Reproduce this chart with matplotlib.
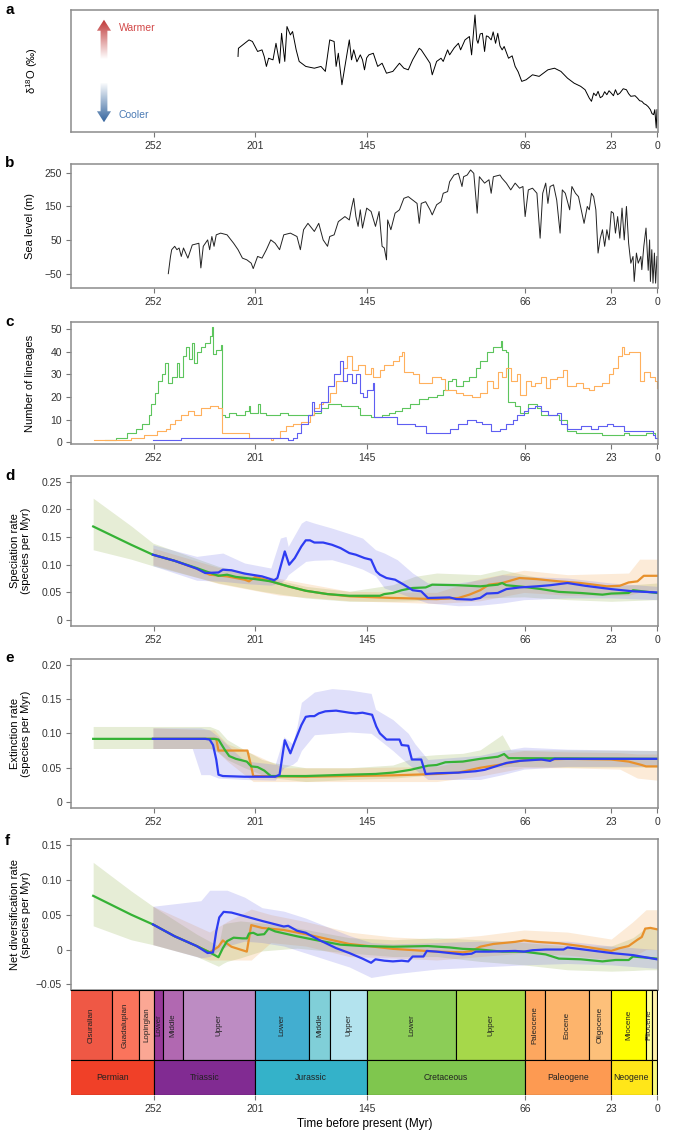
import numpy as np
import matplotlib
matplotlib.use("Agg")
import matplotlib.pyplot as plt
from matplotlib.patches import Polygon
from matplotlib.colors import LinearSegmentedColormap

plt.rcParams['font.family'] = ['Liberation Sans', 'DejaVu Sans']
plt.rcParams['mathtext.fontset'] = 'custom'
plt.rcParams['mathtext.rm'] = 'Liberation Sans'

# ---------------- data (age in Myr, value) ----------------
# a: oxygen isotope curve (per mil, axis inverted so warmer is up)
d18o = np.array([
    [209.7, 1.33], [209.5, 0.92], [204.2, 0.50], [202.5, 0.58], [199.9, 1.08], [197.7, 1.00],
    [196.6, 1.33], [195.5, 1.83], [194.4, 1.42], [192.2, 1.50], [190.7, 0.67], [188.9, 1.67],
    [187.9, 0.17], [186.3, 1.58], [185.2, -0.17], [183.5, 0.25], [182.4, 0.08], [180.6, 1.00],
    [179.1, 1.58], [175.8, 1.83], [171.5, 1.92], [168.2, 1.83], [166.0, 2.08], [163.8, 0.50],
    [161.6, 0.58], [160.6, 1.83], [159.5, 1.17], [157.7, 2.75], [156.2, 1.83], [154.0, 0.50],
    [152.9, 1.50], [151.8, 1.00], [150.2, 1.60], [148.5, 1.25], [147.4, 1.50], [146.4, 2.00],
    [145.3, 1.40], [144.2, 1.25], [142.0, 1.17], [139.8, 1.83], [137.6, 1.67], [135.4, 2.17],
    [132.2, 2.08], [128.9, 1.67], [126.7, 1.92], [124.5, 2.00], [122.3, 1.50], [119.0, 0.92],
    [118.0, 1.00], [114.7, 1.50], [113.6, 1.67], [112.5, 2.25], [110.3, 1.58], [108.1, 1.42],
    [107.0, 1.58], [104.8, 1.00], [103.8, 1.25], [101.5, 0.90], [99.4, 0.67], [98.3, 1.00],
    [96.1, 0.50], [93.9, 0.33], [92.8, 1.25], [91.1, -0.75], [90.2, 0.50], [89.6, 0.67],
    [88.5, 0.20], [87.4, 0.17], [86.3, 1.08], [85.4, 0.30], [84.5, 0.33], [83.0, 0.50],
    [82.0, 0.10], [80.8, 0.67], [79.7, 0.17], [78.6, 0.80], [77.5, 1.00], [76.5, 0.83],
    [74.3, 1.42], [72.5, 1.30], [71.0, 1.83], [69.5, 2.10], [67.7, 2.58], [65.5, 2.50],
    [62.3, 2.25], [59.0, 2.33], [54.6, 2.00], [51.3, 1.92], [48.1, 2.08], [44.8, 2.42],
    [41.5, 2.67], [38.2, 2.83], [36.0, 3.00], [33.9, 3.42], [32.8, 3.58], [31.7, 3.17],
    [30.5, 3.30], [29.5, 3.08], [28.4, 3.40], [27.3, 3.33], [26.2, 3.10], [25.1, 3.25],
    [24.0, 3.05], [22.9, 3.17], [21.8, 3.30], [20.8, 3.00], [19.7, 3.25], [18.6, 3.17],
    [16.9, 2.95], [15.3, 3.00], [14.2, 3.20], [13.1, 3.33], [11.0, 3.30], [9.8, 3.42],
    [8.7, 3.55], [7.6, 3.58], [6.5, 3.70], [5.5, 3.75], [4.4, 3.85], [3.3, 4.00], [2.5, 4.20],
    [1.7, 4.25], [1.1, 4.00], [0.4, 4.92], [0.0, 4.00]])

# b: sea level (m)
sea_level = np.array([
    [244.6, -49], [243.5, 2], [242.9, 22], [241.4, 32], [240.3, 22], [239.2, 27], [238.1, 2],
    [237.0, 27], [234.8, -3], [232.6, 36], [229.3, 41], [228.3, -32], [227.1, 32], [224.9, 51],
    [223.9, 22], [222.8, 61], [221.7, 32], [220.6, 66], [218.4, 71], [215.2, 66], [211.9, 41],
    [209.7, 22], [207.5, -3], [205.3, -8], [203.1, -18], [202.1, -34], [199.9, 2], [197.7, -3],
    [195.5, 22], [193.3, 51], [191.1, 41], [188.9, 22], [186.8, 66], [183.5, 71], [180.2, 61],
    [178.5, 22], [176.9, 81], [174.7, 100], [171.5, 76], [169.3, 100], [167.1, 51], [164.9, 32],
    [163.8, 61], [161.6, 66], [159.5, 105], [156.2, 120], [154.0, 110], [152.9, 145], [151.8, 174],
    [150.7, 120], [149.6, 91], [148.5, 140], [147.4, 86], [145.3, 145], [143.1, 135], [140.9, 91],
    [139.1, 135], [137.6, 32], [136.5, 27], [135.4, -8], [134.8, 110], [133.2, 81], [131.1, 130],
    [128.9, 140], [126.7, 174], [124.5, 179], [122.3, 169], [120.1, 159], [119.0, 100],
    [118.0, 159], [115.8, 164], [113.6, 140], [112.5, 125], [110.3, 155], [108.1, 164],
    [107.0, 189], [104.8, 194], [103.8, 223], [101.6, 243], [99.4, 248], [97.6, 209], [96.8, 238],
    [95.0, 243], [93.3, 258], [91.7, 248], [90.0, 130], [88.9, 238], [86.3, 219], [84.1, 229],
    [83.0, 189], [81.9, 238], [78.6, 243], [77.5, 233], [75.4, 219], [73.2, 199], [71.0, 219],
    [68.8, 204], [67.1, 209], [66.0, 120], [64.4, 199], [62.3, 204], [60.1, 189], [58.5, 56],
    [57.2, 189], [55.7, 219], [54.6, 159], [53.5, 209], [51.8, 214], [50.2, 169], [48.5, 71],
    [47.4, 199], [45.9, 189], [43.7, 140], [42.6, 209], [40.8, 189], [39.3, 179], [36.5, 100],
    [34.9, 150], [33.9, 140], [32.8, 189], [31.7, 179], [30.6, 140], [29.5, 12], [28.4, 56],
    [27.3, 81], [26.2, 32], [25.1, 81], [24.0, 51], [22.9, 135], [21.8, 130], [20.8, 71],
    [19.7, 120], [18.6, 56], [17.5, 145], [16.4, 51], [15.3, 150], [14.2, 41], [13.1, -18],
    [12.0, 2], [11.4, -72], [10.3, 12], [9.4, -18], [8.1, 2], [7.6, -37], [6.6, 32], [5.5, 86],
    [4.4, -39], [3.7, 51], [3.3, -72], [2.6, 22], [2.0, -77], [1.3, 12], [0.7, -77], [0.0, 2]])

# c: lineages through time (value holds until next age)
ltt_green = np.array([
    [276.3, 1], [270.9, 2], [265.4, 4], [261.0, 6], [257.8, 8], [254.5, 12], [253.4, 17],
    [251.2, 22], [249.7, 27], [247.9, 30], [246.2, 35], [244.6, 26], [242.5, 29], [240.3, 35],
    [239.2, 29], [237.4, 38], [235.9, 42], [234.2, 37], [232.6, 44], [231.5, 35], [230.0, 40],
    [228.3, 42], [226.1, 44], [223.9, 47], [222.6, 51], [222.2, 39], [220.6, 41], [218.4, 43],
    [217.5, 12], [216.3, 11], [214.1, 13], [210.8, 12], [206.4, 14], [204.2, 16], [203.5, 13],
    [199.9, 17], [198.8, 13], [195.5, 12], [188.9, 13], [184.6, 12], [175.8, 12], [171.5, 13],
    [168.2, 15], [164.9, 17], [158.4, 16], [149.6, 15], [148.5, 12], [143.1, 11], [137.6, 12],
    [134.3, 13], [131.1, 14], [127.8, 15], [123.4, 17], [119.0, 19], [114.7, 20], [110.3, 21],
    [107.0, 23], [104.8, 27], [102.7, 28], [100.5, 25], [97.2, 27], [93.9, 29], [90.7, 33],
    [88.5, 36], [85.2, 40], [81.9, 42], [78.0, 45], [77.5, 41], [75.4, 40], [74.7, 18],
    [71.0, 16], [68.8, 13], [64.4, 17], [60.1, 15], [57.9, 12], [49.1, 10], [44.8, 5],
    [40.4, 4], [27.3, 3], [16.4, 4], [14.2, 3], [5.5, 4], [1.1, 2], [0.0, 2]])
ltt_orange = np.array([
    [281.8, 1], [263.2, 2], [256.7, 3], [250.1, 5], [245.7, 6], [243.6, 8], [241.4, 10],
    [238.1, 12], [234.8, 14], [231.5, 12], [228.3, 15], [223.9, 16], [219.5, 15], [217.7, 4],
    [204.2, 2], [193.3, 1], [192.2, 2], [188.9, 5], [185.7, 7], [182.4, 8], [178.0, 9],
    [173.7, 12], [171.5, 15], [169.3, 17], [167.1, 18], [163.8, 22], [160.6, 27], [157.3, 33],
    [155.1, 38], [152.9, 32], [149.6, 34], [146.4, 30], [143.1, 33], [142.0, 29], [138.7, 32],
    [136.5, 34], [132.2, 36], [128.9, 38], [127.8, 40], [126.7, 31], [122.3, 30], [119.0, 26],
    [112.5, 29], [108.1, 28], [105.9, 23], [100.5, 22], [97.2, 21], [92.8, 20], [88.5, 22],
    [85.2, 27], [81.9, 24], [79.7, 31], [77.5, 29], [75.4, 33], [73.2, 27], [69.9, 30],
    [68.8, 21], [65.5, 27], [63.3, 25], [61.2, 26], [57.9, 29], [55.7, 24], [53.5, 28],
    [50.2, 29], [47.0, 32], [44.8, 25], [40.4, 26], [37.1, 24], [33.9, 23], [31.7, 25],
    [27.3, 26], [24.0, 30], [21.8, 33], [19.7, 38], [17.5, 42], [16.4, 39], [14.2, 40],
    [8.7, 27], [6.6, 31], [3.3, 29], [1.1, 27], [0.0, 24]])
ltt_blue = np.array([
    [252.3, 1], [238.1, 2], [193.3, 2], [184.6, 1], [182.4, 2], [180.2, 4], [178.0, 8],
    [174.7, 12], [172.6, 18], [171.5, 14], [168.2, 18], [164.9, 25], [161.6, 30], [158.8, 36],
    [157.3, 27], [155.1, 30], [152.9, 26], [150.7, 30], [148.5, 22], [147.4, 20], [145.3, 23],
    [142.0, 26], [141.8, 11], [136.5, 11], [129.9, 8], [121.2, 7], [115.8, 4], [108.1, 4],
    [103.8, 6], [99.4, 8], [95.0, 10], [90.7, 9], [87.4, 8], [83.0, 5], [78.6, 6], [75.4, 8],
    [72.1, 10], [69.9, 12], [66.6, 14], [64.4, 15], [61.2, 16], [57.9, 14], [54.6, 12],
    [50.2, 13], [48.1, 8], [44.8, 6], [38.2, 7], [32.8, 6], [29.5, 7], [25.1, 8], [21.8, 7],
    [16.4, 5], [3.3, 5], [2.2, 3], [1.1, 2], [0.0, 2]])

# d: speciation rate, lines [age, rate] and bands [age, lower, upper]
spec_green = np.array([
    [282.2, 0.169], [263.2, 0.136], [252.3, 0.118], [241.4, 0.107], [230.4, 0.094],
    [219.5, 0.080], [215.2, 0.082], [210.8, 0.078], [201.0, 0.074], [193.3, 0.070],
    [184.6, 0.061], [175.8, 0.053], [164.9, 0.047], [154.0, 0.044], [145.3, 0.044],
    [138.7, 0.044], [136.5, 0.047], [132.2, 0.049], [127.8, 0.054], [122.3, 0.058],
    [115.8, 0.059], [112.5, 0.064], [99.4, 0.063], [88.5, 0.061], [79.7, 0.064], [77.5, 0.067],
    [75.4, 0.063], [66.6, 0.060], [57.9, 0.056], [49.1, 0.051], [38.2, 0.049], [27.3, 0.046],
    [22.9, 0.048], [14.2, 0.049], [12.0, 0.054], [0.0, 0.049]])
spec_orange = np.array([
    [252.3, 0.118], [241.4, 0.107], [230.4, 0.093], [223.9, 0.082], [215.2, 0.079],
    [206.4, 0.073], [204.2, 0.070], [201.0, 0.078], [193.3, 0.070], [184.6, 0.061],
    [175.8, 0.053], [164.9, 0.047], [154.0, 0.043], [132.2, 0.040], [110.3, 0.038],
    [99.4, 0.040], [93.9, 0.046], [88.5, 0.054], [84.1, 0.064], [77.5, 0.067], [68.8, 0.076],
    [60.1, 0.074], [49.1, 0.070], [38.2, 0.067], [25.1, 0.061], [18.6, 0.062], [14.2, 0.068],
    [9.8, 0.070], [6.6, 0.080], [0.0, 0.080]])
spec_blue = np.array([
    [252.3, 0.118], [241.4, 0.107], [230.4, 0.093], [226.1, 0.085], [219.5, 0.086],
    [217.3, 0.091], [213.0, 0.090], [206.4, 0.084], [197.7, 0.079], [191.6, 0.072],
    [190.0, 0.076], [186.3, 0.124], [184.1, 0.100], [181.3, 0.112], [178.0, 0.133],
    [175.8, 0.144], [173.7, 0.144], [171.5, 0.140], [167.1, 0.140], [162.7, 0.136],
    [158.4, 0.130], [154.0, 0.121], [150.7, 0.118], [146.4, 0.112], [143.1, 0.109],
    [140.5, 0.088], [138.7, 0.082], [135.4, 0.076], [131.1, 0.073], [126.7, 0.064],
    [122.3, 0.054], [118.0, 0.052], [114.7, 0.040], [103.8, 0.041], [100.5, 0.038],
    [92.8, 0.037], [88.5, 0.040], [85.2, 0.048], [79.7, 0.049], [75.4, 0.056], [68.8, 0.059],
    [60.1, 0.061], [53.5, 0.063], [44.8, 0.067], [36.0, 0.062], [22.9, 0.056], [12.0, 0.052],
    [0.0, 0.050]])
spec_green_ci = np.array([
    [282.2, 0.127, 0.220], [263.2, 0.110, 0.170], [252.3, 0.098, 0.139], [219.5, 0.067, 0.097],
    [197.7, 0.052, 0.079], [175.8, 0.040, 0.061], [154.0, 0.034, 0.052], [132.2, 0.034, 0.064],
    [121.2, 0.035, 0.079], [110.3, 0.037, 0.085], [88.5, 0.040, 0.082], [77.5, 0.041, 0.091],
    [66.6, 0.042, 0.082], [44.8, 0.037, 0.067], [22.9, 0.034, 0.061], [0.0, 0.037, 0.067]])
spec_orange_ci = np.array([
    [252.3, 0.100, 0.130], [219.5, 0.066, 0.095], [188.9, 0.045, 0.075], [154.0, 0.035, 0.052],
    [110.3, 0.030, 0.050], [88.5, 0.035, 0.075], [66.6, 0.050, 0.090], [44.8, 0.045, 0.082],
    [14.2, 0.045, 0.085], [8.7, 0.050, 0.110], [0.0, 0.055, 0.110]])
spec_blue_ci = np.array([
    [252.3, 0.098, 0.136], [230.4, 0.072, 0.115], [217.3, 0.070, 0.121], [206.4, 0.066, 0.103],
    [193.3, 0.063, 0.094], [188.5, 0.067, 0.148], [185.7, 0.075, 0.151], [184.6, 0.082, 0.133],
    [178.0, 0.100, 0.175], [175.8, 0.106, 0.180], [171.5, 0.108, 0.175], [162.7, 0.109, 0.166],
    [154.0, 0.100, 0.156], [147.4, 0.092, 0.148], [140.9, 0.080, 0.127], [136.5, 0.058, 0.121],
    [130.0, 0.050, 0.109], [122.3, 0.040, 0.085], [114.7, 0.031, 0.067], [99.4, 0.026, 0.067],
    [88.5, 0.027, 0.073], [77.5, 0.031, 0.082], [66.6, 0.037, 0.079], [44.8, 0.040, 0.076],
    [22.9, 0.040, 0.067], [0.0, 0.037, 0.061]])

# e: extinction rate
ext_green = np.array([
    [282.2, 0.092], [221.7, 0.092], [219.5, 0.091], [216.3, 0.076], [214.1, 0.067],
    [210.8, 0.063], [205.3, 0.059], [203.1, 0.052], [199.9, 0.051], [196.6, 0.046],
    [193.3, 0.038], [175.8, 0.038], [154.0, 0.040], [140.9, 0.041], [132.2, 0.043],
    [123.4, 0.047], [114.7, 0.053], [110.3, 0.054], [105.9, 0.058], [97.2, 0.059],
    [88.5, 0.063], [79.7, 0.066], [76.5, 0.070], [74.3, 0.064], [0.0, 0.063]])
ext_orange = np.array([
    [252.3, 0.092], [220.6, 0.092], [219.5, 0.075], [205.0, 0.075], [203.1, 0.052],
    [202.1, 0.038], [175.8, 0.037], [154.0, 0.038], [132.2, 0.039], [110.3, 0.041],
    [99.4, 0.043], [88.5, 0.050], [79.7, 0.054], [66.6, 0.061], [55.7, 0.062], [44.8, 0.063],
    [22.9, 0.062], [14.2, 0.059], [7.6, 0.054], [5.5, 0.052], [0.0, 0.052]])
ext_blue = np.array([
    [252.3, 0.092], [226.1, 0.092], [223.9, 0.091], [222.2, 0.083], [220.6, 0.062],
    [219.5, 0.040], [217.3, 0.038], [206.4, 0.037], [191.1, 0.037], [188.9, 0.040],
    [186.3, 0.090], [183.5, 0.071], [181.3, 0.088], [178.0, 0.112], [175.8, 0.124],
    [173.7, 0.125], [171.5, 0.125], [169.3, 0.129], [166.0, 0.132], [160.6, 0.133],
    [154.0, 0.130], [150.7, 0.129], [147.4, 0.130], [144.2, 0.128], [142.6, 0.127],
    [140.5, 0.110], [138.7, 0.100], [135.4, 0.091], [128.9, 0.091], [127.8, 0.083],
    [124.5, 0.082], [122.7, 0.062], [118.0, 0.062], [115.8, 0.041], [110.3, 0.042],
    [99.4, 0.043], [90.7, 0.045], [86.3, 0.047], [79.7, 0.053], [75.4, 0.057], [68.8, 0.060],
    [57.9, 0.062], [53.5, 0.060], [51.3, 0.063], [0.0, 0.063]])
ext_green_ci = np.array([
    [282.2, 0.078, 0.110], [223.9, 0.078, 0.110], [219.5, 0.072, 0.105], [215.2, 0.062, 0.091],
    [206.4, 0.050, 0.076], [197.7, 0.040, 0.062], [191.1, 0.035, 0.057], [175.8, 0.030, 0.050],
    [154.0, 0.033, 0.050], [132.2, 0.035, 0.054], [119.0, 0.038, 0.067], [110.3, 0.042, 0.069],
    [97.2, 0.046, 0.071], [88.5, 0.050, 0.076], [77.5, 0.051, 0.098], [73.2, 0.052, 0.076],
    [44.8, 0.051, 0.076], [0.0, 0.051, 0.075]])
ext_orange_ci = np.array([
    [252.3, 0.078, 0.108], [221.7, 0.078, 0.105], [215.2, 0.060, 0.085], [202.1, 0.030, 0.070],
    [186.8, 0.030, 0.050], [154.0, 0.030, 0.050], [110.3, 0.030, 0.052], [88.5, 0.038, 0.065],
    [66.6, 0.050, 0.075], [44.8, 0.050, 0.073], [18.6, 0.048, 0.072], [9.8, 0.035, 0.070],
    [0.0, 0.032, 0.070]])
ext_blue_ci = np.array([
    [252.3, 0.078, 0.108], [232.6, 0.078, 0.108], [228.3, 0.040, 0.108], [223.9, 0.040, 0.105],
    [219.5, 0.035, 0.095], [206.4, 0.033, 0.060], [191.1, 0.032, 0.055], [186.8, 0.050, 0.095],
    [182.4, 0.055, 0.085], [180.2, 0.060, 0.110], [178.0, 0.075, 0.145], [171.5, 0.098, 0.160],
    [162.7, 0.100, 0.165], [154.0, 0.102, 0.163], [143.1, 0.100, 0.158], [140.9, 0.095, 0.135],
    [132.2, 0.075, 0.120], [124.5, 0.055, 0.100], [121.2, 0.048, 0.085], [114.7, 0.033, 0.062],
    [88.5, 0.033, 0.068], [77.5, 0.040, 0.075], [66.6, 0.048, 0.080], [44.8, 0.052, 0.077],
    [0.0, 0.052, 0.075]])

# f: net diversification rate
div_green = np.array([
    [282.2, 0.077], [263.2, 0.050], [252.3, 0.036], [241.4, 0.019], [230.4, 0.005],
    [223.9, -0.004], [219.5, -0.011], [217.3, 0.002], [215.2, 0.012], [211.9, 0.017],
    [207.5, 0.016], [205.3, 0.016], [204.2, 0.023], [202.1, 0.024], [199.9, 0.021],
    [196.6, 0.022], [194.4, 0.030], [191.1, 0.026], [180.2, 0.019], [171.5, 0.014],
    [158.4, 0.007], [147.4, 0.005], [132.2, 0.004], [114.7, 0.005], [103.8, 0.003],
    [97.2, 0.001], [88.5, 0.000], [77.5, -0.003], [66.6, -0.003], [55.7, -0.007],
    [49.1, -0.013], [38.2, -0.014], [27.3, -0.017], [20.8, -0.015], [14.2, -0.015],
    [12.0, -0.010], [0.0, -0.013]])
div_orange = np.array([
    [252.3, 0.036], [241.4, 0.019], [230.4, 0.005], [223.9, -0.004], [219.5, 0.004],
    [217.3, 0.013], [213.0, 0.004], [205.3, -0.003], [203.1, 0.035], [197.7, 0.031],
    [186.8, 0.028], [175.8, 0.022], [154.0, 0.008], [132.2, 0.001], [110.3, -0.003],
    [97.2, -0.004], [92.8, -0.002], [88.5, 0.004], [81.9, 0.008], [71.0, 0.011], [66.6, 0.013],
    [60.1, 0.011], [49.1, 0.009], [38.2, 0.005], [27.3, 0.000], [22.9, -0.002], [18.6, 0.002],
    [14.2, 0.005], [9.8, 0.014], [7.6, 0.018], [5.9, 0.030], [3.3, 0.031], [0.0, 0.029]])
div_blue = np.array([
    [252.3, 0.036], [241.4, 0.019], [230.4, 0.005], [224.9, -0.005], [222.2, -0.004],
    [220.6, 0.026], [219.1, 0.046], [216.9, 0.054], [213.0, 0.053], [197.7, 0.041],
    [186.8, 0.033], [184.6, 0.034], [180.2, 0.027], [175.8, 0.024], [169.3, 0.014],
    [160.6, 0.002], [154.0, -0.005], [147.4, -0.013], [143.1, -0.019], [140.9, -0.014],
    [136.5, -0.016], [132.2, -0.017], [127.8, -0.016], [124.5, -0.017], [122.3, -0.010],
    [116.9, -0.010], [115.2, -0.002], [110.3, -0.003], [103.8, -0.005], [97.2, -0.007],
    [92.8, -0.006], [90.7, -0.003], [84.1, -0.003], [71.0, -0.002], [66.6, -0.003],
    [62.3, -0.001], [55.7, 0.000], [46.8, 0.000], [44.8, 0.003], [33.9, -0.001],
    [22.9, -0.005], [12.0, -0.008], [0.0, -0.014]])
div_green_ci = np.array([
    [282.2, 0.034, 0.125], [263.2, 0.014, 0.084], [252.3, 0.007, 0.062], [230.4, -0.010, 0.022],
    [219.5, -0.024, 0.005], [217.3, -0.020, 0.036], [215.2, -0.017, 0.038], [208.6, -0.012, 0.041],
    [197.7, -0.002, 0.038], [180.2, 0.002, 0.031], [154.0, -0.005, 0.017], [132.2, -0.010, 0.014],
    [110.3, -0.010, 0.017], [88.5, -0.017, 0.014], [66.6, -0.022, 0.010], [44.8, -0.029, 0.005],
    [22.9, -0.031, 0.005], [12.0, -0.030, 0.017], [5.5, -0.029, 0.031], [0.0, -0.029, 0.031]])
div_orange_ci = np.array([
    [252.3, 0.007, 0.062], [223.9, -0.015, 0.025], [215.2, -0.015, 0.040], [203.1, -0.015, 0.058],
    [193.3, 0.010, 0.050], [175.8, 0.005, 0.040], [154.0, -0.010, 0.025], [132.2, -0.012, 0.018],
    [110.3, -0.015, 0.015], [88.5, -0.010, 0.020], [66.6, -0.005, 0.028], [44.8, -0.008, 0.025],
    [22.9, -0.015, 0.015], [12.0, -0.010, 0.040], [5.5, 0.000, 0.057], [0.0, 0.000, 0.057]])
div_blue_ci = np.array([
    [252.3, 0.007, 0.062], [228.3, -0.012, 0.070], [223.9, -0.010, 0.085], [215.2, 0.005, 0.085],
    [206.4, 0.012, 0.075], [197.7, 0.010, 0.060], [186.8, 0.005, 0.055], [175.8, -0.005, 0.045],
    [154.0, -0.025, 0.020], [143.1, -0.040, 0.010], [132.2, -0.035, 0.008], [110.3, -0.028, 0.010],
    [88.5, -0.025, 0.012], [66.6, -0.022, 0.012], [44.8, -0.020, 0.012], [22.9, -0.022, 0.005],
    [0.0, -0.027, 0.000]])

# geological time scale
epoch_names = ["Cisuralian", "Guadalupian", "Lopingian", "Lower", "Middle", "Upper", "Lower",
               "Middle", "Upper", "Lower", "Upper", "Paleocene", "Eocene", "Oligocene",
               "Miocene", "Pliocene", ""]
epoch_bounds = [298.9, 272.95, 259.1, 251.9, 247.2, 237.0, 201.4, 174.1, 163.5, 145.0, 100.5,
                66.0, 56.0, 33.9, 23.03, 5.333, 2.58, 0.0]
epoch_colors = ["#EF5845", "#FB745C", "#FBA794", "#983999", "#B168B1", "#BD8CC3", "#42AED0",
                "#80CFD8", "#B3E3EE", "#8CCD57", "#A6D84A", "#FDA75F", "#FDB46C", "#FDC07A",
                "#FFFF00", "#FFFF99", "#FFF2AE"]
period_names = ["Permian", "Triassic", "Jurassic", "Cretaceous", "Paleogene", "Neogene", ""]
period_bounds = [298.9, 251.9, 201.4, 145.0, 66.0, 23.03, 2.58, 0.0]
period_colors = ["#F04028", "#812B92", "#34B2C9", "#7FC64E", "#FD9A52", "#FFE619", "#F9F97F"]

age_ticks = [252, 201, 145, 66, 23, 0]

# ---------------- layout ----------------
XLIM = (293.3, -0.5)
FW, FH = 685, 1134
LEFT, RIGHT = 71, 658


def place(top, bottom):
    return [LEFT / FW, 1 - bottom / FH, (RIGHT - LEFT) / FW, (bottom - top) / FH]


fig = plt.figure(figsize=(6.85, 11.34), dpi=100)
ax_a = fig.add_axes(place(10, 132))
ax_b = fig.add_axes(place(164, 288))
ax_c = fig.add_axes(place(322, 444.3))
ax_d = fig.add_axes(place(476, 625.7))
ax_e = fig.add_axes(place(659, 807.7))
ax_f = fig.add_axes(place(839.3, 990))
ax_t = fig.add_axes(place(990, 1095))

GREEN, ORANGE, BLUE = "#35B235", "#E8912C", "#2E3CF2"
BAND_G, BAND_O, BAND_B = "#82A532", "#F09B3C", "#6464E6"


def style(ax, xlabels=True):
    ax.set_xlim(*XLIM)
    for s in ax.spines.values():
        s.set_color("#8c8c8c")
        s.set_linewidth(1.1)
    ax.set_xticks(age_ticks)
    ax.tick_params(direction="out", length=3.5, width=0.8, color="#777777",
                   labelsize=7.5, labelcolor="#333333", pad=3)
    if not xlabels:
        ax.tick_params(axis="x", length=0, labelbottom=False)


def yticks(ax, vals, labels):
    ax.set_yticks(vals)
    ax.set_yticklabels(labels)


# ---- a ----
ax_a.plot(d18o[:, 0], d18o[:, 1], color="black", lw=0.7)
ax_a.set_ylim(5.12, -1.0)
style(ax_a)
ax_a.set_yticks([])
ax_a.set_ylabel(r"δ$^{18}$O (‰)", fontsize=8)
ax_a.yaxis.set_label_coords(-0.052, 0.5)


def grad_arrow(ax, x, base, tip, color):
    up = tip > base
    hl = 0.09 if up else -0.09
    sw, hw = 0.0058, 0.012
    neck = tip - hl
    verts = [(x - sw, base), (x - sw, neck), (x - hw, neck), (x, tip), (x + hw, neck),
             (x + sw, neck), (x + sw, base)]
    poly = Polygon(verts, closed=True, transform=ax.transAxes, fc="none", ec="none")
    ax.add_patch(poly)
    cmap = LinearSegmentedColormap.from_list("g", ["white", color])
    grad = np.linspace(0, 1, 256).reshape(-1, 1)
    if not up:
        grad = grad[::-1]
    im = ax.imshow(grad, cmap=cmap, origin="lower", aspect="auto",
                   extent=(x - hw, x + hw, min(base, tip), max(base, tip)),
                   transform=ax.transAxes, zorder=3)
    im.set_clip_path(poly)


ax_a.set_xlim(*XLIM)
ax_a.set_ylim(5.12, -1.0)
grad_arrow(ax_a, 0.0562, 0.60, 0.92, "#BE3434")
grad_arrow(ax_a, 0.0562, 0.40, 0.08, "#35659E")
ax_a.set_xlim(*XLIM)
ax_a.set_ylim(5.12, -1.0)
ax_a.text(0.081, 0.85, "Warmer", transform=ax_a.transAxes, color="#D24848",
          fontsize=7.5, va="center")
ax_a.text(0.081, 0.14, "Cooler", transform=ax_a.transAxes, color="#4A7AB4",
          fontsize=7.5, va="center")

# ---- b ----
ax_b.plot(sea_level[:, 0], sea_level[:, 1], color="#222222", lw=0.7)
ax_b.set_ylim(-91.4, 275.6)
style(ax_b)
yticks(ax_b, [-50, 50, 150, 250], ["−50", "50", "150", "250"])
ax_b.set_ylabel("Sea level (m)", fontsize=8)
ax_b.yaxis.set_label_coords(-0.062, 0.5)

# ---- c ----
for arr, col in [(ltt_green, "#5DC55D"), (ltt_orange, "#FFB05C"), (ltt_blue, "#5F5FF2")]:
    ax_c.step(arr[:, 0], arr[:, 1], where="post", color=col, lw=0.8)
ax_c.set_ylim(-0.9, 53.2)
style(ax_c)
yticks(ax_c, [0, 10, 20, 30, 40, 50], ["0", "10", "20", "30", "40", "50"])
ax_c.set_ylabel("Number of lineages", fontsize=8)
ax_c.yaxis.set_label_coords(-0.062, 0.5)


def rate_panel(ax, bands, lines):
    for arr, col in zip(bands, [BAND_G, BAND_O, BAND_B]):
        ax.fill_between(arr[:, 0], arr[:, 1], arr[:, 2], color=col, alpha=0.2, lw=0)
    for arr, col in zip(lines, [ORANGE, GREEN, BLUE]):
        ax.plot(arr[:, 0], arr[:, 1], color=col, lw=1.6, solid_joinstyle="round")


# ---- d ----
rate_panel(ax_d, [spec_green_ci, spec_orange_ci, spec_blue_ci],
           [spec_orange, spec_green, spec_blue])
ax_d.set_ylim(-0.01, 0.26)
style(ax_d)
yticks(ax_d, [0, 0.05, 0.10, 0.15, 0.20, 0.25], ["0", "0.05", "0.10", "0.15", "0.20", "0.25"])
ax_d.set_ylabel("Speciation rate\n(species per Myr)", fontsize=8, linespacing=1.1)
ax_d.yaxis.set_label_coords(-0.068, 0.5)

# ---- e ----
rate_panel(ax_e, [ext_green_ci, ext_orange_ci, ext_blue_ci],
           [ext_orange, ext_green, ext_blue])
ax_e.set_ylim(-0.008, 0.208)
style(ax_e)
yticks(ax_e, [0, 0.05, 0.10, 0.15, 0.20], ["0", "0.05", "0.10", "0.15", "0.20"])
ax_e.set_ylabel("Extinction rate\n(species per Myr)", fontsize=8, linespacing=1.1)
ax_e.yaxis.set_label_coords(-0.068, 0.5)

# ---- f ----
rate_panel(ax_f, [div_green_ci, div_orange_ci, div_blue_ci],
           [div_orange, div_green, div_blue])
ax_f.set_ylim(-0.058, 0.158)
style(ax_f, xlabels=False)
yticks(ax_f, [-0.05, 0, 0.05, 0.10, 0.15], ["−0.05", "0", "0.05", "0.10", "0.15"])
ax_f.set_ylabel("Net diversification rate\n(species per Myr)", fontsize=8, linespacing=1.1)
ax_f.yaxis.set_label_coords(-0.068, 0.5)

# ---- time scale ----
def scale_row(ax, names, bounds, colors, y0, h, rot, fs):
    old = np.array(bounds[:-1])
    young = np.array(bounds[1:])
    ax.bar(young, h, width=old - young, bottom=y0, align="edge", color=colors,
           edgecolor="black", linewidth=0.8)
    for name, o, yg in zip(names, old, young):
        if name:
            xc = (min(o, XLIM[0]) + yg) / 2
            ax.text(xc, y0 + h / 2, name, rotation=rot, ha="center", va="center",
                    fontsize=fs, color="#222222")


scale_row(ax_t, epoch_names, epoch_bounds, epoch_colors, 1, 2, 90, 5.8)
scale_row(ax_t, period_names, period_bounds, period_colors, 0, 1, 0, 6.2)
ax_t.set_ylim(0, 3)
ax_t.set_xlim(*XLIM)
for s in ax_t.spines.values():
    s.set_visible(False)
ax_t.set_yticks([])
ax_t.set_xticks(age_ticks)
ax_t.tick_params(axis="x", direction="out", length=3.5, width=0.8, color="#777777",
                 labelsize=7.5, labelcolor="#333333", pad=3)
ax_t.set_xlabel("Time before present (Myr)", fontsize=8.5, labelpad=3)

# panel letters
for letter, ypx in [("a", 10), ("b", 163), ("c", 322), ("d", 476), ("e", 658), ("f", 841)]:
    fig.text(5 / FW, 1 - ypx / FH, letter, fontsize=11, fontweight="bold", va="center")

fig.savefig("out.png", dpi=100)
